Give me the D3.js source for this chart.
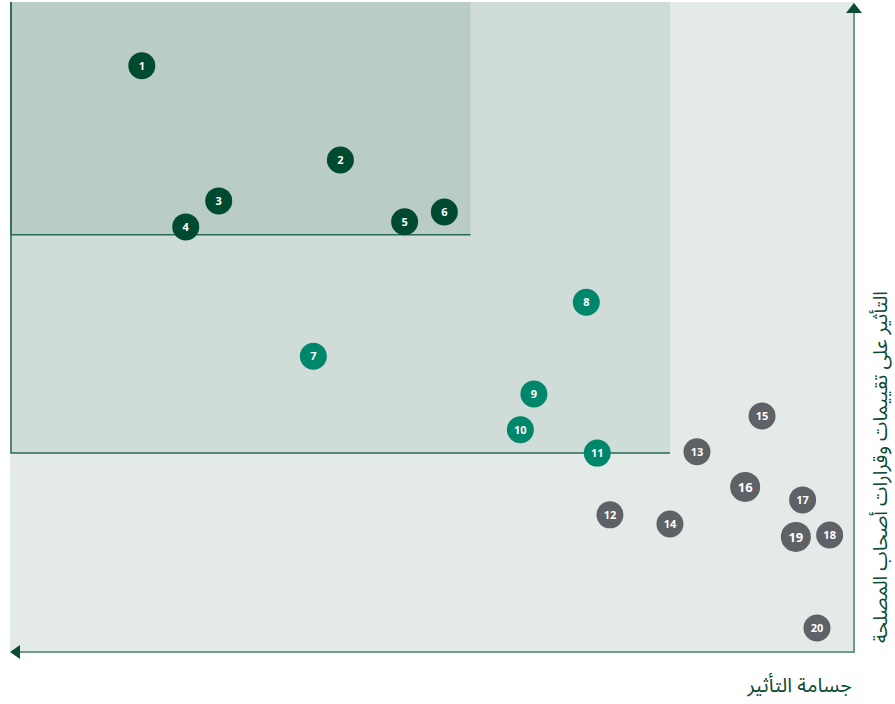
<!DOCTYPE html>
<html lang="ar">
<head>
<meta charset="utf-8">
<script src="https://cdn.jsdelivr.net/npm/d3@7"></script>
<style>
  html, body { margin: 0; padding: 0; background: #ffffff; }
  svg { display: block; }
  text { font-family: "Noto Sans Arabic", "DejaVu Sans", "Noto Sans", sans-serif; }
</style>
</head>
<body>
<svg id="chart" width="895" height="704"></svg>
<script>
// topic numbers
var ids = [1, 2, 3, 4, 5, 6, 7, 8, 9, 10, 11, 12, 13, 14, 15, 16, 17, 18, 19, 20];
// impact magnitude (grows to the left)
var impact = [84.4, 60.9, 75.3, 79.2, 53.3, 48.6, 64.1, 31.8, 38.0, 39.6, 30.5, 29.0, 18.7, 21.9, 11.0, 13.0, 6.2, 3.0, 7.0, 4.5];
// influence on stakeholder assessments (grows upward)
var influence = [90.2, 75.7, 69.4, 65.4, 66.2, 67.7, 45.5, 53.8, 39.7, 34.2, 30.6, 21.1, 30.8, 19.7, 36.3, 25.4, 23.4, 18.0, 17.7, 3.7];
// priority group for each topic: 0 high, 1 medium, 2 low
var group = [0, 0, 0, 0, 0, 0, 1, 1, 1, 1, 1, 2, 2, 2, 2, 2, 2, 2, 2, 2];
// bigger markers
var big = [16, 19];

// zone thresholds (lower bounds of each zone)
var zoneX = [0, 21.9, 45.5];
var zoneY = [0, 30.6, 64.2];

var xLabel = "جسامة التأثير";
var yLabel = "التأثير على تقييمات وقرارات أصحاب المصلحة";

var pointColors = ["#004a2f", "#00866a", "#5e6166"];
var zoneColors = ["#e4eae8", "#cfdcd7", "#b9cdc6"];

var svg = d3.select("#chart");

var x = d3.scaleLinear().domain([0, 100]).range([855, 10]);
var y = d3.scaleLinear().domain([0, 100]).range([652, 2]);

// zones, outermost first
var zones = svg.append("g");
zones.selectAll("rect")
    .data(zoneX)
    .enter()
    .append("rect")
    .attr("x", x(100))
    .attr("y", y(100))
    .attr("width", function (d) { return x(d) - x(100); })
    .attr("height", function (d, i) { return y(zoneY[i]) - y(100); })
    .attr("fill", function (d, i) { return zoneColors[i]; });

// bottom and left borders of the inner zones
zones.selectAll("path.edge")
    .data(zoneX.slice(1))
    .enter()
    .append("path")
    .attr("class", "edge")
    .attr("fill", "none")
    .attr("stroke", "#2b6a50")
    .attr("stroke-width", 1.5)
    .attr("d", function (d, i) {
        var yb = y(zoneY[i + 1]);
        return "M" + (x(100) + 1) + "," + y(100) + "V" + yb + "H" + x(d);
    });

// axes with arrows
var axisG = svg.append("g");
axisG.append("line")
    .attr("x1", x(0)).attr("x2", x(100) + 8)
    .attr("y1", y(0)).attr("y2", y(0))
    .attr("stroke", "#6f9c88").attr("stroke-width", 2);
axisG.append("path")
    .attr("d", "M" + (x(100)) + "," + y(0) + "l10,-7v14z")
    .attr("fill", "#0b4a33");
axisG.append("line")
    .attr("x1", x(0) - 1).attr("x2", x(0) - 1)
    .attr("y1", y(0)).attr("y2", y(100) + 8)
    .attr("stroke", "#6f9c88").attr("stroke-width", 2);
axisG.append("path")
    .attr("d", "M" + (x(0) - 1) + "," + (y(100) + 1) + "l-8,10h16z")
    .attr("fill", "#0b4a33");

// axis titles
svg.append("text")
    .attr("x", 852)
    .attr("y", 692)
    .attr("text-anchor", "end")
    .attr("fill", "#0b4a33")
    .attr("font-size", 20)
    .text(xLabel);

svg.append("text")
    .attr("transform", "translate(887,467) rotate(-90)")
    .attr("text-anchor", "middle")
    .attr("fill", "#0b4a33")
    .attr("font-size", 19.5)
    .text(yLabel);

// topic markers
var pts = svg.append("g")
    .selectAll("g")
    .data(ids)
    .enter()
    .append("g")
    .attr("transform", function (d, i) {
        return "translate(" + x(impact[i]) + "," + y(influence[i]) + ")";
    });

pts.append("circle")
    .attr("r", function (d) { return big.indexOf(d) >= 0 ? 15 : 13.5; })
    .attr("fill", function (d, i) { return pointColors[group[i]]; });

pts.append("text")
    .attr("text-anchor", "middle")
    .attr("dy", "0.36em")
    .attr("fill", "#ffffff")
    .attr("font-weight", "bold")
    .attr("font-size", function (d) { return big.indexOf(d) >= 0 ? 13 : 11; })
    .style("font-family", "'Open Sans', 'DejaVu Sans', sans-serif")
    .text(function (d) { return d; });
</script>
</body>
</html>
